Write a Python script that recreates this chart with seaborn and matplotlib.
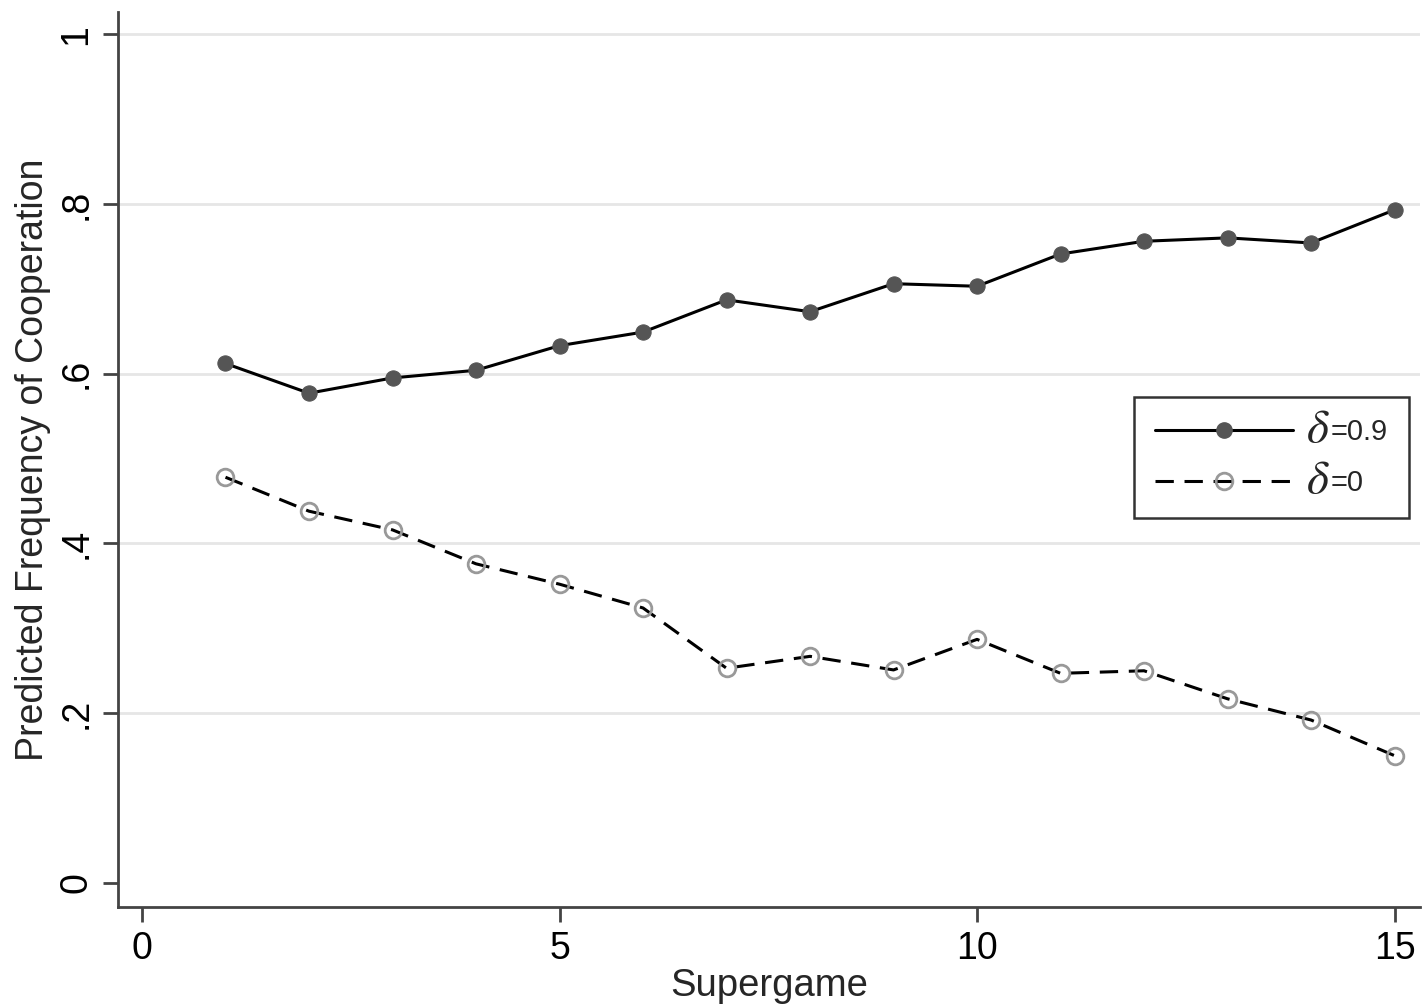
import numpy as np
import pandas as pd
import matplotlib
matplotlib.use("Agg")
import matplotlib.pyplot as plt
import seaborn as sns
from matplotlib.lines import Line2D

supergame = list(range(1, 16))
coop_delta09 = [0.612, 0.577, 0.595, 0.604, 0.633, 0.649, 0.687, 0.673,
                0.706, 0.703, 0.741, 0.756, 0.760, 0.754, 0.793]
coop_delta0 = [0.478, 0.438, 0.416, 0.376, 0.352, 0.324, 0.253, 0.267,
               0.251, 0.287, 0.247, 0.250, 0.217, 0.192, 0.150]
y_ticks = [0, 0.2, 0.4, 0.6, 0.8, 1.0]
y_ticklabels = ["0", ".2", ".4", ".6", ".8", "1"]
x_ticks = [0, 5, 10, 15]
legend_values = ["=0.9", "=0"]

sns.set_theme(style="white")
plt.rcParams["font.family"] = ["Liberation Sans", "DejaVu Sans"]
plt.rcParams["mathtext.fontset"] = "stix"

fig = plt.figure(figsize=(14.22, 10.06), dpi=100)
ax = fig.add_axes([0.083, 0.0984, 0.9156, 0.8896])

df = pd.DataFrame({"Supergame": supergame, "hi": coop_delta09, "lo": coop_delta0})

dash = (0, (6, 3.5))
hi_style = dict(color="black", lw=2.2, marker="o", markersize=11,
                markerfacecolor="#555555", markeredgecolor="#555555")
lo_style = dict(color="black", lw=2.2, linestyle=dash, marker="o", markersize=12,
                markerfacecolor="none", markeredgecolor="#999999",
                markeredgewidth=2)

sns.lineplot(data=df, x="Supergame", y="hi", ax=ax, zorder=3, **hi_style)
sns.lineplot(data=df, x="Supergame", y="lo", ax=ax, zorder=3, **lo_style)

ax.set_xlim(-0.287, 15.305)
ax.set_ylim(-0.0283, 1.026)
ax.set_xticks(x_ticks)
ax.set_xticklabels([str(t) for t in x_ticks])
ax.set_yticks(y_ticks)
ax.set_yticklabels(y_ticklabels, rotation=90, va="center")

for y in y_ticks[1:]:
    ax.axhline(y, color="#e6e6e6", lw=2, zorder=0)

for side in ["top", "right"]:
    ax.spines[side].set_visible(False)
for side in ["left", "bottom"]:
    ax.spines[side].set_color("#444444")
    ax.spines[side].set_linewidth(2)

ax.tick_params(axis="both", which="major", direction="out", length=11,
               width=2, color="#444444", labelsize=27, pad=6, labelcolor="black")
ax.tick_params(axis="y", left=True)
ax.tick_params(axis="x", bottom=True)

ax.set_xlabel("Supergame", fontsize=27.5, labelpad=1)
ax.set_ylabel("Predicted Frequency of Cooperation", fontsize=27, labelpad=5)

handles = [Line2D([], [], **hi_style), Line2D([], [], **lo_style)]
leg = ax.legend(handles, legend_values, loc="upper left",
                bbox_to_anchor=(0.780, 0.570), borderaxespad=0,
                fontsize=21, frameon=True, fancybox=False, handlelength=4.75,
                handletextpad=1.3, borderpad=0.72, labelspacing=0.8)
leg.get_frame().set_edgecolor("#333333")
leg.get_frame().set_linewidth(1.8)
leg.get_frame().set_alpha(1)

# large italic delta in front of each legend entry
fig.canvas.draw()
for t in leg.get_texts():
    bb = t.get_window_extent()
    x0, y0 = fig.transFigure.inverted().transform((bb.x0 - 1, (bb.y0 + bb.y1) / 2 + 2))
    fig.text(x0, y0, r"$\delta$", fontsize=34, ha="right", va="center", zorder=10)

fig.savefig("out.png", dpi=100, facecolor="white")
